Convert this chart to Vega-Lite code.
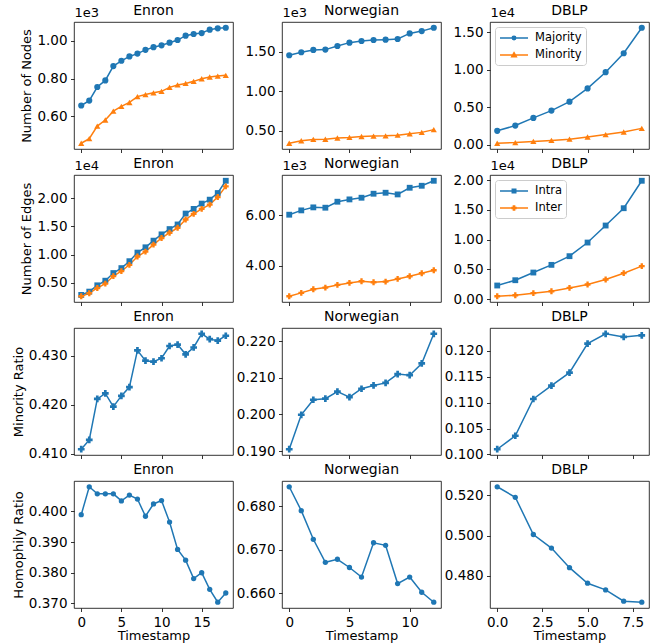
{
  "$schema": "https://vega.github.io/schema/vega-lite/v6.json",
  "padding": {"left": 11, "top": 3, "right": 5, "bottom": 0},
  "columns": 3,
  "spacing": {"row": 26, "column": 49},
  "bounds": "flush",
  "resolve": {"scale": {"color": "independent", "shape": "independent"}},
  "config": {
    "font": "DejaVu Sans",
    "view": {"stroke": "black", "strokeWidth": 0.8},
    "axis": {"grid": false, "domain": false, "tickColor": "black", "tickSize": 3.5, "tickWidth": 0.8, "labelColor": "black", "labelFontSize": 13.5, "labelPadding": 3.5, "titleFontSize": 13, "titleFontWeight": "normal", "titleColor": "black", "titlePadding": 3, "labelFlush": false, "labelOverlap": false, "labelFont": "DejaVu Sans", "titleFont": "DejaVu Sans"},
    "axisX": {"titlePadding": 1},
    "title": {"fontSize": 14, "fontWeight": "normal", "font": "DejaVu Sans", "color": "black", "offset": 4},
    "legend": {"labelFont": "DejaVu Sans", "labelFontSize": 11.5, "labelColor": "black"}
  },
  "datasets": {
    "nodes": [
      {"dataset":"Enron","t":0,"group":"Majority","value":658},{"dataset":"Enron","t":1,"group":"Majority","value":684},{"dataset":"Enron","t":2,"group":"Majority","value":756},{"dataset":"Enron","t":3,"group":"Majority","value":791},{"dataset":"Enron","t":4,"group":"Majority","value":867},{"dataset":"Enron","t":5,"group":"Majority","value":895},{"dataset":"Enron","t":6,"group":"Majority","value":918},{"dataset":"Enron","t":7,"group":"Majority","value":933},{"dataset":"Enron","t":8,"group":"Majority","value":953},{"dataset":"Enron","t":9,"group":"Majority","value":967},{"dataset":"Enron","t":10,"group":"Majority","value":977},{"dataset":"Enron","t":11,"group":"Majority","value":991},{"dataset":"Enron","t":12,"group":"Majority","value":1005},{"dataset":"Enron","t":13,"group":"Majority","value":1028},{"dataset":"Enron","t":14,"group":"Majority","value":1037},{"dataset":"Enron","t":15,"group":"Majority","value":1042},{"dataset":"Enron","t":16,"group":"Majority","value":1060},{"dataset":"Enron","t":17,"group":"Majority","value":1067},{"dataset":"Enron","t":18,"group":"Majority","value":1070},
      {"dataset":"Enron","t":0,"group":"Minority","value":458},{"dataset":"Enron","t":1,"group":"Minority","value":482},{"dataset":"Enron","t":2,"group":"Minority","value":549},{"dataset":"Enron","t":3,"group":"Minority","value":581},{"dataset":"Enron","t":4,"group":"Minority","value":628},{"dataset":"Enron","t":5,"group":"Minority","value":653},{"dataset":"Enron","t":6,"group":"Minority","value":674},{"dataset":"Enron","t":7,"group":"Minority","value":705},{"dataset":"Enron","t":8,"group":"Minority","value":716},{"dataset":"Enron","t":9,"group":"Minority","value":725},{"dataset":"Enron","t":10,"group":"Minority","value":733},{"dataset":"Enron","t":11,"group":"Minority","value":754},{"dataset":"Enron","t":12,"group":"Minority","value":767},{"dataset":"Enron","t":13,"group":"Minority","value":775},{"dataset":"Enron","t":14,"group":"Minority","value":786},{"dataset":"Enron","t":15,"group":"Minority","value":800},{"dataset":"Enron","t":16,"group":"Minority","value":809},{"dataset":"Enron","t":17,"group":"Minority","value":814},{"dataset":"Enron","t":18,"group":"Minority","value":818},
      {"dataset":"Norwegian","t":0,"group":"Majority","value":1454},{"dataset":"Norwegian","t":1,"group":"Majority","value":1492},{"dataset":"Norwegian","t":2,"group":"Majority","value":1521},{"dataset":"Norwegian","t":3,"group":"Majority","value":1525},{"dataset":"Norwegian","t":4,"group":"Majority","value":1571},{"dataset":"Norwegian","t":5,"group":"Majority","value":1613},{"dataset":"Norwegian","t":6,"group":"Majority","value":1634},{"dataset":"Norwegian","t":7,"group":"Majority","value":1646},{"dataset":"Norwegian","t":8,"group":"Majority","value":1651},{"dataset":"Norwegian","t":9,"group":"Majority","value":1659},{"dataset":"Norwegian","t":10,"group":"Majority","value":1730},{"dataset":"Norwegian","t":11,"group":"Majority","value":1759},{"dataset":"Norwegian","t":12,"group":"Majority","value":1801},
      {"dataset":"Norwegian","t":0,"group":"Minority","value":342},{"dataset":"Norwegian","t":1,"group":"Minority","value":373},{"dataset":"Norwegian","t":2,"group":"Minority","value":390},{"dataset":"Norwegian","t":3,"group":"Minority","value":392},{"dataset":"Norwegian","t":4,"group":"Minority","value":408},{"dataset":"Norwegian","t":5,"group":"Minority","value":415},{"dataset":"Norwegian","t":6,"group":"Minority","value":427},{"dataset":"Norwegian","t":7,"group":"Minority","value":432},{"dataset":"Norwegian","t":8,"group":"Minority","value":435},{"dataset":"Norwegian","t":9,"group":"Minority","value":444},{"dataset":"Norwegian","t":10,"group":"Minority","value":462},{"dataset":"Norwegian","t":11,"group":"Minority","value":479},{"dataset":"Norwegian","t":12,"group":"Minority","value":514},
      {"dataset":"DBLP","t":0,"group":"Majority","value":1860},{"dataset":"DBLP","t":1,"group":"Majority","value":2560},{"dataset":"DBLP","t":2,"group":"Majority","value":3580},{"dataset":"DBLP","t":3,"group":"Majority","value":4550},{"dataset":"DBLP","t":4,"group":"Majority","value":5740},{"dataset":"DBLP","t":5,"group":"Majority","value":7500},{"dataset":"DBLP","t":6,"group":"Majority","value":9660},{"dataset":"DBLP","t":7,"group":"Majority","value":12180},{"dataset":"DBLP","t":8,"group":"Majority","value":15570},
      {"dataset":"DBLP","t":0,"group":"Minority","value":209},{"dataset":"DBLP","t":1,"group":"Minority","value":296},{"dataset":"DBLP","t":2,"group":"Minority","value":446},{"dataset":"DBLP","t":3,"group":"Minority","value":581},{"dataset":"DBLP","t":4,"group":"Minority","value":752},{"dataset":"DBLP","t":5,"group":"Minority","value":1036},{"dataset":"DBLP","t":6,"group":"Minority","value":1359},{"dataset":"DBLP","t":7,"group":"Minority","value":1704},{"dataset":"DBLP","t":8,"group":"Minority","value":2184}
    ],
    "edges": [
      {"dataset":"Enron","t":0,"group":"Intra","value":2820},{"dataset":"Enron","t":1,"group":"Intra","value":3410},{"dataset":"Enron","t":2,"group":"Intra","value":4530},{"dataset":"Enron","t":3,"group":"Intra","value":5350},{"dataset":"Enron","t":4,"group":"Intra","value":6710},{"dataset":"Enron","t":5,"group":"Intra","value":7590},{"dataset":"Enron","t":6,"group":"Intra","value":8820},{"dataset":"Enron","t":7,"group":"Intra","value":10350},{"dataset":"Enron","t":8,"group":"Intra","value":11290},{"dataset":"Enron","t":9,"group":"Intra","value":12470},{"dataset":"Enron","t":10,"group":"Intra","value":13590},{"dataset":"Enron","t":11,"group":"Intra","value":14530},{"dataset":"Enron","t":12,"group":"Intra","value":15350},{"dataset":"Enron","t":13,"group":"Intra","value":17290},{"dataset":"Enron","t":14,"group":"Intra","value":18120},{"dataset":"Enron","t":15,"group":"Intra","value":19060},{"dataset":"Enron","t":16,"group":"Intra","value":19760},{"dataset":"Enron","t":17,"group":"Intra","value":20940},{"dataset":"Enron","t":18,"group":"Intra","value":23120},
      {"dataset":"Enron","t":0,"group":"Inter","value":2590},{"dataset":"Enron","t":1,"group":"Inter","value":3120},{"dataset":"Enron","t":2,"group":"Inter","value":4060},{"dataset":"Enron","t":3,"group":"Inter","value":4820},{"dataset":"Enron","t":4,"group":"Inter","value":6180},{"dataset":"Enron","t":5,"group":"Inter","value":7060},{"dataset":"Enron","t":6,"group":"Inter","value":8180},{"dataset":"Enron","t":7,"group":"Inter","value":9650},{"dataset":"Enron","t":8,"group":"Inter","value":10530},{"dataset":"Enron","t":9,"group":"Inter","value":11760},{"dataset":"Enron","t":10,"group":"Inter","value":12940},{"dataset":"Enron","t":11,"group":"Inter","value":13880},{"dataset":"Enron","t":12,"group":"Inter","value":14760},{"dataset":"Enron","t":13,"group":"Inter","value":16240},{"dataset":"Enron","t":14,"group":"Inter","value":17240},{"dataset":"Enron","t":15,"group":"Inter","value":18120},{"dataset":"Enron","t":16,"group":"Inter","value":18880},{"dataset":"Enron","t":17,"group":"Inter","value":20240},{"dataset":"Enron","t":18,"group":"Inter","value":22120},
      {"dataset":"Norwegian","t":0,"group":"Intra","value":6013},{"dataset":"Norwegian","t":1,"group":"Intra","value":6183},{"dataset":"Norwegian","t":2,"group":"Intra","value":6301},{"dataset":"Norwegian","t":3,"group":"Intra","value":6288},{"dataset":"Norwegian","t":4,"group":"Intra","value":6523},{"dataset":"Norwegian","t":5,"group":"Intra","value":6614},{"dataset":"Norwegian","t":6,"group":"Intra","value":6680},{"dataset":"Norwegian","t":7,"group":"Intra","value":6837},{"dataset":"Norwegian","t":8,"group":"Intra","value":6876},{"dataset":"Norwegian","t":9,"group":"Intra","value":6810},{"dataset":"Norwegian","t":10,"group":"Intra","value":7072},{"dataset":"Norwegian","t":11,"group":"Intra","value":7150},{"dataset":"Norwegian","t":12,"group":"Intra","value":7346},
      {"dataset":"Norwegian","t":0,"group":"Inter","value":2810},{"dataset":"Norwegian","t":1,"group":"Inter","value":2941},{"dataset":"Norwegian","t":2,"group":"Inter","value":3085},{"dataset":"Norwegian","t":3,"group":"Inter","value":3150},{"dataset":"Norwegian","t":4,"group":"Inter","value":3255},{"dataset":"Norwegian","t":5,"group":"Inter","value":3333},{"dataset":"Norwegian","t":6,"group":"Inter","value":3399},{"dataset":"Norwegian","t":7,"group":"Inter","value":3359},{"dataset":"Norwegian","t":8,"group":"Inter","value":3386},{"dataset":"Norwegian","t":9,"group":"Inter","value":3490},{"dataset":"Norwegian","t":10,"group":"Inter","value":3595},{"dataset":"Norwegian","t":11,"group":"Inter","value":3712},{"dataset":"Norwegian","t":12,"group":"Inter","value":3830},
      {"dataset":"DBLP","t":0,"group":"Intra","value":2300},{"dataset":"DBLP","t":1,"group":"Intra","value":3190},{"dataset":"DBLP","t":2,"group":"Intra","value":4480},{"dataset":"DBLP","t":3,"group":"Intra","value":5770},{"dataset":"DBLP","t":4,"group":"Intra","value":7230},{"dataset":"DBLP","t":5,"group":"Intra","value":9520},{"dataset":"DBLP","t":6,"group":"Intra","value":12380},{"dataset":"DBLP","t":7,"group":"Intra","value":15290},{"dataset":"DBLP","t":8,"group":"Intra","value":19900},
      {"dataset":"DBLP","t":0,"group":"Inter","value":500},{"dataset":"DBLP","t":1,"group":"Inter","value":670},{"dataset":"DBLP","t":2,"group":"Inter","value":1010},{"dataset":"DBLP","t":3,"group":"Inter","value":1340},{"dataset":"DBLP","t":4,"group":"Inter","value":1900},{"dataset":"DBLP","t":5,"group":"Inter","value":2470},{"dataset":"DBLP","t":6,"group":"Inter","value":3310},{"dataset":"DBLP","t":7,"group":"Inter","value":4370},{"dataset":"DBLP","t":8,"group":"Inter","value":5550}
    ],
    "ratio": [
      {"dataset":"Enron","t":0,"value":0.4109},{"dataset":"Enron","t":1,"value":0.4128},{"dataset":"Enron","t":2,"value":0.4212},{"dataset":"Enron","t":3,"value":0.4223},{"dataset":"Enron","t":4,"value":0.4196},{"dataset":"Enron","t":5,"value":0.4218},{"dataset":"Enron","t":6,"value":0.4236},{"dataset":"Enron","t":7,"value":0.4311},{"dataset":"Enron","t":8,"value":0.4290},{"dataset":"Enron","t":9,"value":0.4288},{"dataset":"Enron","t":10,"value":0.4295},{"dataset":"Enron","t":11,"value":0.4320},{"dataset":"Enron","t":12,"value":0.4323},{"dataset":"Enron","t":13,"value":0.4303},{"dataset":"Enron","t":14,"value":0.4317},{"dataset":"Enron","t":15,"value":0.4345},{"dataset":"Enron","t":16,"value":0.4334},{"dataset":"Enron","t":17,"value":0.4331},{"dataset":"Enron","t":18,"value":0.4341},
      {"dataset":"Norwegian","t":0,"value":0.1905},{"dataset":"Norwegian","t":1,"value":0.1999},{"dataset":"Norwegian","t":2,"value":0.2040},{"dataset":"Norwegian","t":3,"value":0.2043},{"dataset":"Norwegian","t":4,"value":0.2062},{"dataset":"Norwegian","t":5,"value":0.2047},{"dataset":"Norwegian","t":6,"value":0.2070},{"dataset":"Norwegian","t":7,"value":0.2079},{"dataset":"Norwegian","t":8,"value":0.2086},{"dataset":"Norwegian","t":9,"value":0.2110},{"dataset":"Norwegian","t":10,"value":0.2107},{"dataset":"Norwegian","t":11,"value":0.2139},{"dataset":"Norwegian","t":12,"value":0.2220},
      {"dataset":"DBLP","t":0,"value":0.1010},{"dataset":"DBLP","t":1,"value":0.1036},{"dataset":"DBLP","t":2,"value":0.1107},{"dataset":"DBLP","t":3,"value":0.1133},{"dataset":"DBLP","t":4,"value":0.1158},{"dataset":"DBLP","t":5,"value":0.1214},{"dataset":"DBLP","t":6,"value":0.1233},{"dataset":"DBLP","t":7,"value":0.1227},{"dataset":"DBLP","t":8,"value":0.1230}
    ],
    "homophily": [
      {"dataset":"Enron","t":0,"value":0.3989},{"dataset":"Enron","t":1,"value":0.4080},{"dataset":"Enron","t":2,"value":0.4057},{"dataset":"Enron","t":3,"value":0.4057},{"dataset":"Enron","t":4,"value":0.4057},{"dataset":"Enron","t":5,"value":0.4034},{"dataset":"Enron","t":6,"value":0.4053},{"dataset":"Enron","t":7,"value":0.4040},{"dataset":"Enron","t":8,"value":0.3984},{"dataset":"Enron","t":9,"value":0.4024},{"dataset":"Enron","t":10,"value":0.4035},{"dataset":"Enron","t":11,"value":0.3965},{"dataset":"Enron","t":12,"value":0.3876},{"dataset":"Enron","t":13,"value":0.3841},{"dataset":"Enron","t":14,"value":0.3781},{"dataset":"Enron","t":15,"value":0.3800},{"dataset":"Enron","t":16,"value":0.3746},{"dataset":"Enron","t":17,"value":0.3704},{"dataset":"Enron","t":18,"value":0.3734},
      {"dataset":"Norwegian","t":0,"value":0.6845},{"dataset":"Norwegian","t":1,"value":0.6790},{"dataset":"Norwegian","t":2,"value":0.6724},{"dataset":"Norwegian","t":3,"value":0.6671},{"dataset":"Norwegian","t":4,"value":0.6678},{"dataset":"Norwegian","t":5,"value":0.6659},{"dataset":"Norwegian","t":6,"value":0.6637},{"dataset":"Norwegian","t":7,"value":0.6716},{"dataset":"Norwegian","t":8,"value":0.6710},{"dataset":"Norwegian","t":9,"value":0.6622},{"dataset":"Norwegian","t":10,"value":0.6637},{"dataset":"Norwegian","t":11,"value":0.6602},{"dataset":"Norwegian","t":12,"value":0.6579},
      {"dataset":"DBLP","t":0,"value":0.5241},{"dataset":"DBLP","t":1,"value":0.5189},{"dataset":"DBLP","t":2,"value":0.5005},{"dataset":"DBLP","t":3,"value":0.4938},{"dataset":"DBLP","t":4,"value":0.4841},{"dataset":"DBLP","t":5,"value":0.4764},{"dataset":"DBLP","t":6,"value":0.4731},{"dataset":"DBLP","t":7,"value":0.4675},{"dataset":"DBLP","t":8,"value":0.4670}
    ]
  },
  "concat": [
    {
      "title": {"text": "Enron", "offset": -12},
      "width": 159, "height": 127,
      "data": {"name": "nodes"},
      "transform": [{"filter": "datum.dataset === 'Enron'"}],
      "encoding": {
        "x": {"field": "t", "type": "quantitative", "scale": {"domain": [-0.9, 18.9], "nice": false, "zero": false}, "axis": {"values": [0, 5, 10, 15], "labels": false, "title": null}},
        "color": {"field": "group", "type": "nominal", "scale": {"domain": ["Majority", "Minority"], "range": ["#1f77b4", "#ff7f0e"]}, "legend": null}
      },
      "layer": [
        {"mark": {"type": "line", "strokeWidth": 1.5},
         "encoding": {"y": {"field": "value", "type": "quantitative", "scale": {"domain": [427.4, 1100.6], "nice": false, "zero": false}, "axis": {"values": [600, 800, 1000], "labelExpr": "format(datum.value / 1000, '.2f')", "title": "Number of Nodes"}}}},
        {"mark": {"type": "point", "filled": true, "opacity": 1, "size": 38},
         "encoding": {
           "y": {"field": "value", "type": "quantitative", "scale": {"domain": [427.4, 1100.6], "nice": false, "zero": false}, "axis": {"orient": "left", "labels": false, "ticks": false, "domain": false, "title": "1e3", "titleAngle": 0, "titleAlign": "left", "titleBaseline": "bottom", "titleX": 0, "titleY": -3}},
           "shape": {"field": "group", "type": "nominal", "scale": {"domain": ["Majority", "Minority"], "range": ["circle", "triangle-up"]}, "legend": null}}}
      ],
      "resolve": {"scale": {"y": "independent"}, "axis": {"y": "independent"}}
    },
    {
      "title": {"text": "Norwegian", "offset": -12},
      "width": 159, "height": 127,
      "data": {"name": "nodes"},
      "transform": [{"filter": "datum.dataset === 'Norwegian'"}],
      "encoding": {
        "x": {"field": "t", "type": "quantitative", "scale": {"domain": [-0.6, 12.6], "nice": false, "zero": false}, "axis": {"values": [0, 5, 10], "labels": false, "title": null}},
        "y": {"field": "value", "type": "quantitative", "scale": {"domain": [269, 1874], "nice": false, "zero": false}, "axis": {"values": [500, 1000, 1500], "labelExpr": "format(datum.value / 1000, '.2f')", "title": "1e3", "titleAngle": 0, "titleAlign": "left", "titleBaseline": "bottom", "titleX": 0, "titleY": -3}},
        "color": {"field": "group", "type": "nominal", "scale": {"domain": ["Majority", "Minority"], "range": ["#1f77b4", "#ff7f0e"]}, "legend": null}
      },
      "layer": [
        {"mark": {"type": "line", "strokeWidth": 1.5}},
        {"mark": {"type": "point", "filled": true, "opacity": 1, "size": 38},
         "encoding": {"shape": {"field": "group", "type": "nominal", "scale": {"domain": ["Majority", "Minority"], "range": ["circle", "triangle-up"]}, "legend": null}}}
      ]
    },
    {
      "title": {"text": "DBLP", "offset": -12},
      "width": 159, "height": 127,
      "data": {"name": "nodes"},
      "transform": [{"filter": "datum.dataset === 'DBLP'"}],
      "encoding": {
        "x": {"field": "t", "type": "quantitative", "scale": {"domain": [-0.4, 8.4], "nice": false, "zero": false}, "axis": {"values": [0, 2.5, 5, 7.5], "labels": false, "title": null}},
        "y": {"field": "value", "type": "quantitative", "scale": {"domain": [-559, 16338], "nice": false, "zero": false}, "axis": {"values": [0, 5000, 10000, 15000], "labelExpr": "format(datum.value / 10000, '.2f')", "title": "1e4", "titleAngle": 0, "titleAlign": "left", "titleBaseline": "bottom", "titleX": 0, "titleY": -3}}
      },
      "layer": [
        {"mark": {"type": "line", "strokeWidth": 1.5},
         "encoding": {"color": {"field": "group", "type": "nominal", "scale": {"domain": ["Majority", "Minority"], "range": ["#1f77b4", "#ff7f0e"]}, "legend": null}}},
        {"mark": {"type": "point", "filled": true, "opacity": 1, "size": 38},
         "encoding": {
           "color": {"field": "group", "type": "nominal", "scale": {"domain": ["Majority", "Minority"], "range": ["#1f77b4", "#ff7f0e"]}, "legend": null},
           "shape": {"field": "group", "type": "nominal", "scale": {"domain": ["Majority", "Minority"], "range": ["circle", "triangle-up"]}, "legend": null}}},
        {"transform": [{"filter": "datum.t < 0"}],
         "mark": {"type": "point", "filled": false, "opacity": 1, "strokeWidth": 1.5},
         "encoding": {
           "color": {"field": "group", "type": "nominal", "scale": {"domain": ["Majority", "Minority"], "range": ["#1f77b4", "#ff7f0e"]},
             "legend": {"orient": "top-left", "offset": 5, "title": null, "padding": 4, "rowPadding": 4, "symbolSize": 144, "symbolStrokeWidth": 1.5, "labelOffset": 22, "labelFontSize": 11.5, "fillColor": "rgba(255,255,255,0.8)", "strokeColor": "#cccccc", "cornerRadius": 3}},
           "shape": {"field": "group", "type": "nominal", "scale": {"domain": ["Majority", "Minority"], "range": ["M-1,0L3.67,0M1.045,0a0.29,0.29 0 1,0 0.58,0a0.29,0.29 0 1,0 -0.58,0M1.215,0a0.12,0.12 0 1,0 0.24,0a0.12,0.12 0 1,0 -0.24,0", "M-1,0L3.67,0M1.335,-0.38L1.715,0.28L0.955,0.28ZM1.335,-0.15L1.475,0.1L1.195,0.1Z"]},
             "legend": {"orient": "top-left", "offset": 5, "title": null, "padding": 4, "rowPadding": 4, "symbolSize": 144, "symbolStrokeWidth": 1.5, "labelOffset": 22, "labelFontSize": 11.5, "fillColor": "rgba(255,255,255,0.8)", "strokeColor": "#cccccc", "cornerRadius": 3}}}}
      ],
      "resolve": {"scale": {"color": "independent", "shape": "independent"}}
    },
    {
      "title": {"text": "Enron", "offset": -12},
      "width": 159, "height": 127,
      "data": {"name": "edges"},
      "transform": [{"filter": "datum.dataset === 'Enron'"}],
      "encoding": {
        "x": {"field": "t", "type": "quantitative", "scale": {"domain": [-0.9, 18.9], "nice": false, "zero": false}, "axis": {"values": [0, 5, 10, 15], "labels": false, "title": null}},
        "color": {"field": "group", "type": "nominal", "scale": {"domain": ["Intra", "Inter"], "range": ["#1f77b4", "#ff7f0e"]}, "legend": null}
      },
      "layer": [
        {"mark": {"type": "line", "strokeWidth": 1.5},
         "encoding": {"y": {"field": "value", "type": "quantitative", "scale": {"domain": [1564, 24147], "nice": false, "zero": false}, "axis": {"values": [5000, 10000, 15000, 20000], "labelExpr": "format(datum.value / 10000, '.2f')", "title": "Number of Edges"}}}},
        {"mark": {"type": "point", "filled": true, "opacity": 1, "size": 34},
         "encoding": {
           "y": {"field": "value", "type": "quantitative", "scale": {"domain": [1564, 24147], "nice": false, "zero": false}, "axis": {"orient": "left", "labels": false, "ticks": false, "domain": false, "title": "1e4", "titleAngle": 0, "titleAlign": "left", "titleBaseline": "bottom", "titleX": 0, "titleY": -3}},
           "shape": {"field": "group", "type": "nominal", "scale": {"domain": ["Intra", "Inter"], "range": ["square", "cross"]}, "legend": null}}}
      ],
      "resolve": {"scale": {"y": "independent"}, "axis": {"y": "independent"}}
    },
    {
      "title": {"text": "Norwegian", "offset": -12},
      "width": 159, "height": 127,
      "data": {"name": "edges"},
      "transform": [{"filter": "datum.dataset === 'Norwegian'"}],
      "encoding": {
        "x": {"field": "t", "type": "quantitative", "scale": {"domain": [-0.6, 12.6], "nice": false, "zero": false}, "axis": {"values": [0, 5, 10], "labels": false, "title": null}},
        "y": {"field": "value", "type": "quantitative", "scale": {"domain": [2583, 7573], "nice": false, "zero": false}, "axis": {"values": [4000, 6000], "labelExpr": "format(datum.value / 1000, '.2f')", "title": "1e3", "titleAngle": 0, "titleAlign": "left", "titleBaseline": "bottom", "titleX": 0, "titleY": -3}},
        "color": {"field": "group", "type": "nominal", "scale": {"domain": ["Intra", "Inter"], "range": ["#1f77b4", "#ff7f0e"]}, "legend": null}
      },
      "layer": [
        {"mark": {"type": "line", "strokeWidth": 1.5}},
        {"mark": {"type": "point", "filled": true, "opacity": 1, "size": 34},
         "encoding": {"shape": {"field": "group", "type": "nominal", "scale": {"domain": ["Intra", "Inter"], "range": ["square", "cross"]}, "legend": null}}}
      ]
    },
    {
      "title": {"text": "DBLP", "offset": -12},
      "width": 159, "height": 127,
      "data": {"name": "edges"},
      "transform": [{"filter": "datum.dataset === 'DBLP'"}],
      "encoding": {
        "x": {"field": "t", "type": "quantitative", "scale": {"domain": [-0.4, 8.4], "nice": false, "zero": false}, "axis": {"values": [0, 2.5, 5, 7.5], "labels": false, "title": null}},
        "y": {"field": "value", "type": "quantitative", "scale": {"domain": [-470, 20870], "nice": false, "zero": false}, "axis": {"values": [0, 5000, 10000, 15000, 20000], "labelExpr": "format(datum.value / 10000, '.2f')", "title": "1e4", "titleAngle": 0, "titleAlign": "left", "titleBaseline": "bottom", "titleX": 0, "titleY": -3}}
      },
      "layer": [
        {"mark": {"type": "line", "strokeWidth": 1.5},
         "encoding": {"color": {"field": "group", "type": "nominal", "scale": {"domain": ["Intra", "Inter"], "range": ["#1f77b4", "#ff7f0e"]}, "legend": null}}},
        {"mark": {"type": "point", "filled": true, "opacity": 1, "size": 34},
         "encoding": {
           "color": {"field": "group", "type": "nominal", "scale": {"domain": ["Intra", "Inter"], "range": ["#1f77b4", "#ff7f0e"]}, "legend": null},
           "shape": {"field": "group", "type": "nominal", "scale": {"domain": ["Intra", "Inter"], "range": ["square", "cross"]}, "legend": null}}},
        {"transform": [{"filter": "datum.t < 0"}],
         "mark": {"type": "point", "filled": false, "opacity": 1, "strokeWidth": 1.5},
         "encoding": {
           "color": {"field": "group", "type": "nominal", "scale": {"domain": ["Intra", "Inter"], "range": ["#1f77b4", "#ff7f0e"]},
             "legend": {"orient": "top-left", "offset": 5, "title": null, "padding": 4, "rowPadding": 4, "symbolSize": 144, "symbolStrokeWidth": 1.5, "labelOffset": 22, "labelFontSize": 11.5, "fillColor": "rgba(255,255,255,0.8)", "strokeColor": "#cccccc", "cornerRadius": 3}},
           "shape": {"field": "group", "type": "nominal", "scale": {"domain": ["Intra", "Inter"], "range": ["M-1,0L3.67,0M1.045,-0.29L1.625,-0.29L1.625,0.29L1.045,0.29ZM1.235,-0.1L1.435,-0.1L1.435,0.1L1.235,0.1Z", "M-1,0L3.67,0M1.335,-0.45L1.335,0.45M1.235,-0.45L1.235,0.45M1.435,-0.45L1.435,0.45M0.885,-0.1L1.785,-0.1M0.885,0.1L1.785,0.1"]},
             "legend": {"orient": "top-left", "offset": 5, "title": null, "padding": 4, "rowPadding": 4, "symbolSize": 144, "symbolStrokeWidth": 1.5, "labelOffset": 22, "labelFontSize": 11.5, "fillColor": "rgba(255,255,255,0.8)", "strokeColor": "#cccccc", "cornerRadius": 3}}}}
      ],
      "resolve": {"scale": {"color": "independent", "shape": "independent"}}
    },
    {
      "title": "Enron",
      "width": 159, "height": 127,
      "data": {"name": "ratio"},
      "transform": [{"filter": "datum.dataset === 'Enron'"}],
      "encoding": {
        "x": {"field": "t", "type": "quantitative", "scale": {"domain": [-0.9, 18.9], "nice": false, "zero": false}, "axis": {"values": [0, 5, 10, 15], "labels": false, "title": null}},
        "y": {"field": "value", "type": "quantitative", "scale": {"domain": [0.40972, 0.43568], "nice": false, "zero": false}, "axis": {"values": [0.41, 0.42, 0.43], "format": ".3f", "title": "Minority Ratio"}}
      },
      "layer": [
        {"mark": {"type": "line", "color": "#1f77b4", "strokeWidth": 1.5}},
        {"mark": {"type": "point", "shape": "cross", "filled": true, "opacity": 1, "color": "#1f77b4", "size": 45}}
      ]
    },
    {
      "title": "Norwegian",
      "width": 159, "height": 127,
      "data": {"name": "ratio"},
      "transform": [{"filter": "datum.dataset === 'Norwegian'"}],
      "encoding": {
        "x": {"field": "t", "type": "quantitative", "scale": {"domain": [-0.6, 12.6], "nice": false, "zero": false}, "axis": {"values": [0, 5, 10], "labels": false, "title": null}},
        "y": {"field": "value", "type": "quantitative", "scale": {"domain": [0.188925, 0.223575], "nice": false, "zero": false}, "axis": {"values": [0.19, 0.2, 0.21, 0.22], "format": ".3f", "title": null}}
      },
      "layer": [
        {"mark": {"type": "line", "color": "#1f77b4", "strokeWidth": 1.5}},
        {"mark": {"type": "point", "shape": "cross", "filled": true, "opacity": 1, "color": "#1f77b4", "size": 45}}
      ]
    },
    {
      "title": "DBLP",
      "width": 159, "height": 127,
      "data": {"name": "ratio"},
      "transform": [{"filter": "datum.dataset === 'DBLP'"}],
      "encoding": {
        "x": {"field": "t", "type": "quantitative", "scale": {"domain": [-0.4, 8.4], "nice": false, "zero": false}, "axis": {"values": [0, 2.5, 5, 7.5], "labels": false, "title": null}},
        "y": {"field": "value", "type": "quantitative", "scale": {"domain": [0.099885, 0.124415], "nice": false, "zero": false}, "axis": {"values": [0.1, 0.105, 0.11, 0.115, 0.12], "format": ".3f", "title": null}}
      },
      "layer": [
        {"mark": {"type": "line", "color": "#1f77b4", "strokeWidth": 1.5}},
        {"mark": {"type": "point", "shape": "cross", "filled": true, "opacity": 1, "color": "#1f77b4", "size": 45}}
      ]
    },
    {
      "title": "Enron",
      "width": 159, "height": 127,
      "data": {"name": "homophily"},
      "transform": [{"filter": "datum.dataset === 'Enron'"}],
      "encoding": {
        "x": {"field": "t", "type": "quantitative", "scale": {"domain": [-0.9, 18.9], "nice": false, "zero": false}, "axis": {"values": [0, 5, 10, 15], "format": "d", "title": "Timestamp"}},
        "y": {"field": "value", "type": "quantitative", "scale": {"domain": [0.36852, 0.40988], "nice": false, "zero": false}, "axis": {"values": [0.37, 0.38, 0.39, 0.4], "format": ".3f", "title": "Homophily Ratio"}}
      },
      "layer": [
        {"mark": {"type": "line", "color": "#1f77b4", "strokeWidth": 1.5}},
        {"mark": {"type": "point", "shape": "circle", "filled": true, "opacity": 1, "color": "#1f77b4", "size": 28}}
      ]
    },
    {
      "title": "Norwegian",
      "width": 159, "height": 127,
      "data": {"name": "homophily"},
      "transform": [{"filter": "datum.dataset === 'Norwegian'"}],
      "encoding": {
        "x": {"field": "t", "type": "quantitative", "scale": {"domain": [-0.6, 12.6], "nice": false, "zero": false}, "axis": {"values": [0, 5, 10], "format": "d", "title": "Timestamp"}},
        "y": {"field": "value", "type": "quantitative", "scale": {"domain": [0.65657, 0.68583], "nice": false, "zero": false}, "axis": {"values": [0.66, 0.67, 0.68], "format": ".3f", "title": null}}
      },
      "layer": [
        {"mark": {"type": "line", "color": "#1f77b4", "strokeWidth": 1.5}},
        {"mark": {"type": "point", "shape": "circle", "filled": true, "opacity": 1, "color": "#1f77b4", "size": 28}}
      ]
    },
    {
      "title": "DBLP",
      "width": 159, "height": 127,
      "data": {"name": "homophily"},
      "transform": [{"filter": "datum.dataset === 'DBLP'"}],
      "encoding": {
        "x": {"field": "t", "type": "quantitative", "scale": {"domain": [-0.4, 8.4], "nice": false, "zero": false}, "axis": {"values": [0, 2.5, 5, 7.5], "format": ".1f", "title": "Timestamp"}},
        "y": {"field": "value", "type": "quantitative", "scale": {"domain": [0.464145, 0.526955], "nice": false, "zero": false}, "axis": {"values": [0.48, 0.5, 0.52], "format": ".3f", "title": null}}
      },
      "layer": [
        {"mark": {"type": "line", "color": "#1f77b4", "strokeWidth": 1.5}},
        {"mark": {"type": "point", "shape": "circle", "filled": true, "opacity": 1, "color": "#1f77b4", "size": 28}}
      ]
    }
  ]
}
